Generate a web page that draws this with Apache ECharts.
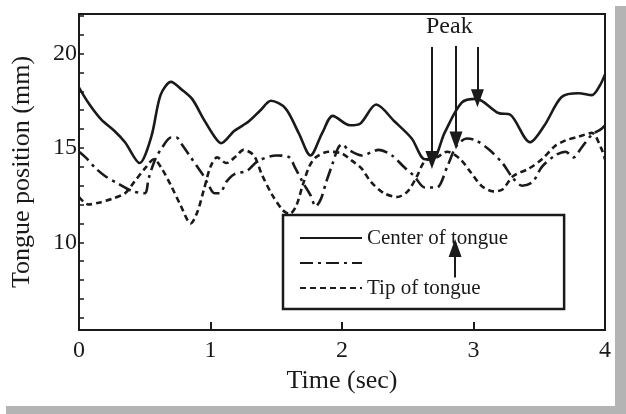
<!DOCTYPE html>
<html>
<head>
<meta charset="utf-8">
<script src="https://cdn.jsdelivr.net/npm/echarts@6/dist/echarts.min.js"></script>
<style>
  html, body { margin: 0; padding: 0; background: #fff; }
  #main { width: 626px; height: 414px; }
</style>
</head>
<body>
<div id="main"></div>
<script>
// data (time in sec, position in mm)
var centerT = [0,0.08,0.17,0.27,0.35,0.46,0.55,0.62,0.7,0.78,0.86,0.95,1.03,1.08,1.18,1.29,1.38,1.46,1.57,1.67,1.76,1.85,1.93,2.06,2.14,2.26,2.4,2.53,2.63,2.69,2.78,2.91,3.02,3.19,3.28,3.43,3.54,3.67,3.8,3.9,3.96,4.0];
var centerV = [18.2,17.3,16.5,15.9,15.3,14.2,15.6,17.8,18.5,18.1,17.6,16.5,15.6,15.25,15.9,16.4,17.0,17.5,17.1,15.8,14.6,15.8,16.7,16.2,16.3,17.3,16.4,15.5,14.4,14.4,15.8,17.4,17.6,16.85,16.76,15.3,16.2,17.7,17.9,17.8,18.3,18.9];

var midT = [0,0.05,0.13,0.2,0.3,0.41,0.5,0.53,0.58,0.63,0.7,0.74,0.79,0.85,0.9,0.94,0.98,1.03,1.07,1.12,1.18,1.28,1.36,1.5,1.6,1.64,1.7,1.76,1.8,1.84,1.88,1.93,1.97,2.0,2.05,2.15,2.28,2.38,2.47,2.55,2.63,2.72,2.8,2.87,2.95,3.02,3.12,3.22,3.3,3.37,3.45,3.52,3.62,3.7,3.76,3.82,3.9,3.97,4.0];
var midV = [14.8,14.5,13.9,13.5,13.1,12.7,12.6,13.4,14.4,15.0,15.55,15.55,15.1,14.5,14.0,13.6,13.1,12.6,12.6,13.2,13.6,13.8,14.3,14.6,14.5,14.0,13.2,12.5,11.9,12.3,13.2,14.2,15.0,15.2,14.9,14.6,14.9,14.6,14.0,13.5,12.9,12.9,14.0,15.1,15.5,15.4,14.9,14.2,13.4,13.0,13.2,14.0,14.6,14.8,14.5,15.0,15.7,16.0,16.2];

var tipT = [0,0.07,0.15,0.25,0.35,0.42,0.5,0.57,0.63,0.7,0.77,0.85,0.9,0.95,1.0,1.05,1.12,1.2,1.25,1.33,1.39,1.47,1.55,1.6,1.65,1.7,1.75,1.8,1.9,2.0,2.08,2.15,2.22,2.32,2.42,2.5,2.57,2.63,2.72,2.8,2.9,2.98,3.06,3.15,3.22,3.3,3.42,3.52,3.62,3.7,3.8,3.9,3.97,4.0];
var tipV = [12.4,12.0,12.1,12.3,12.6,13.2,13.9,14.4,13.9,13.0,12.0,11.0,11.6,12.8,14.0,14.5,14.2,14.6,14.9,14.6,13.6,12.5,11.7,11.5,11.9,13.0,14.0,14.5,14.8,14.7,14.3,13.9,13.2,12.6,12.4,12.7,13.5,14.3,14.5,14.8,14.4,13.7,13.0,12.7,12.8,13.5,13.9,14.4,15.1,15.4,15.6,15.8,15.0,14.4];

var yTicks = [6,7,8,9,10,11,12,13,14,15,16,17,18,19,20,21,22];
var yLabels = [10,15,20];

// peak arrows: [time, top, tip]
var peakArrows = [[2.684, 20.35, 14.36], [2.867, 20.4, 15.4], [3.03, 20.35, 17.63]];
var upArrow = [2.86, 8.13, 9.7];

function pairs(t, v) {
  return t.map(function (x, i) { return [x, v[i]]; });
}

var serif = '"Liberation Serif", "DejaVu Serif", serif';
var ink = '#1a1a1a';

var arrowLines = peakArrows.map(function (a) {
  return [{ coord: [a[0], a[1]] }, { coord: [a[0], a[2]] }];
});
arrowLines.push([{ coord: [upArrow[0], upArrow[1]] }, { coord: [upArrow[0], upArrow[2]] }]);

var myChart = echarts.init(document.getElementById('main'));
var option = {
  backgroundColor: '#fff',
  animation: false,
  grid: {
    left: 79, right: 21, top: 14, bottom: 84,
    show: true, borderColor: ink, borderWidth: 2
  },
  xAxis: {
    type: 'value', min: 0, max: 4, interval: 1,
    name: 'Time (sec)', nameLocation: 'middle', nameGap: 36,
    nameTextStyle: { fontFamily: serif, fontSize: 26, color: ink },
    axisLine: { lineStyle: { color: ink, width: 2 } },
    axisTick: { inside: true, length: 8, lineStyle: { color: ink, width: 2 } },
    axisLabel: { fontFamily: serif, fontSize: 24, color: ink, margin: 9 },
    splitLine: { show: false }
  },
  yAxis: {
    type: 'value', min: 5.35, max: 22.1,
    name: 'Tongue position (mm)', nameLocation: 'middle', nameGap: 44,
    nameTextStyle: { fontFamily: serif, fontSize: 26, color: ink },
    axisLine: { show: true, lineStyle: { color: ink, width: 2 } },
    axisTick: { inside: true, length: 5, customValues: yTicks, lineStyle: { color: ink, width: 1.5 } },
    axisLabel: { fontFamily: serif, fontSize: 24, color: ink, margin: 2, customValues: yLabels },
    splitLine: { show: false }
  },
  legend: {
    left: 283, top: 215,
    orient: 'vertical',
    backgroundColor: '#fff',
    borderColor: ink, borderWidth: 2.5,
    padding: [12, 56, 10, 16],
    itemGap: 3,
    itemWidth: 62, itemHeight: 14,
    itemStyle: { opacity: 0 },
    textStyle: { fontFamily: serif, fontSize: 21, color: ink, lineHeight: 22 },
    formatter: function (name) { return name === 'Middle' ? ' ' : name; },
    data: ['Center of tongue', 'Middle', 'Tip of tongue']
  },
  graphic: [
    { type: 'rect', right: 0, top: 6, shape: { width: 11, height: 408 }, style: { fill: '#b4b4b4' }, silent: true },
    { type: 'rect', left: 6, bottom: 0, shape: { width: 620, height: 8 }, style: { fill: '#b4b4b4' }, silent: true },
    { type: 'text', left: 426, top: 15, style: { text: 'Peak', font: '24px ' + serif, fill: ink } }
  ],
  series: [
    {
      name: 'Center of tongue', type: 'line', symbol: 'none', smooth: 0.3,
      lineStyle: { color: ink, width: 2.6 },
      itemStyle: { color: ink },
      data: pairs(centerT, centerV),
      markLine: {
        silent: true, symbol: ['none', 'triangle'], symbolSize: [13, 18],
        label: { show: false },
        lineStyle: { color: ink, width: 2, type: 'solid' },
        data: arrowLines
      },
      z: 3
    },
    {
      name: 'Middle', type: 'line', symbol: 'none', smooth: 0.3,
      lineStyle: { color: ink, width: 2.6, type: [13, 5, 3, 5] },
      itemStyle: { color: ink },
      data: pairs(midT, midV)
    },
    {
      name: 'Tip of tongue', type: 'line', symbol: 'none', smooth: 0.3,
      lineStyle: { color: ink, width: 2.6, type: [6, 4] },
      itemStyle: { color: ink },
      data: pairs(tipT, tipV)
    }
  ]
};
myChart.setOption(option);
</script>
</body>
</html>
